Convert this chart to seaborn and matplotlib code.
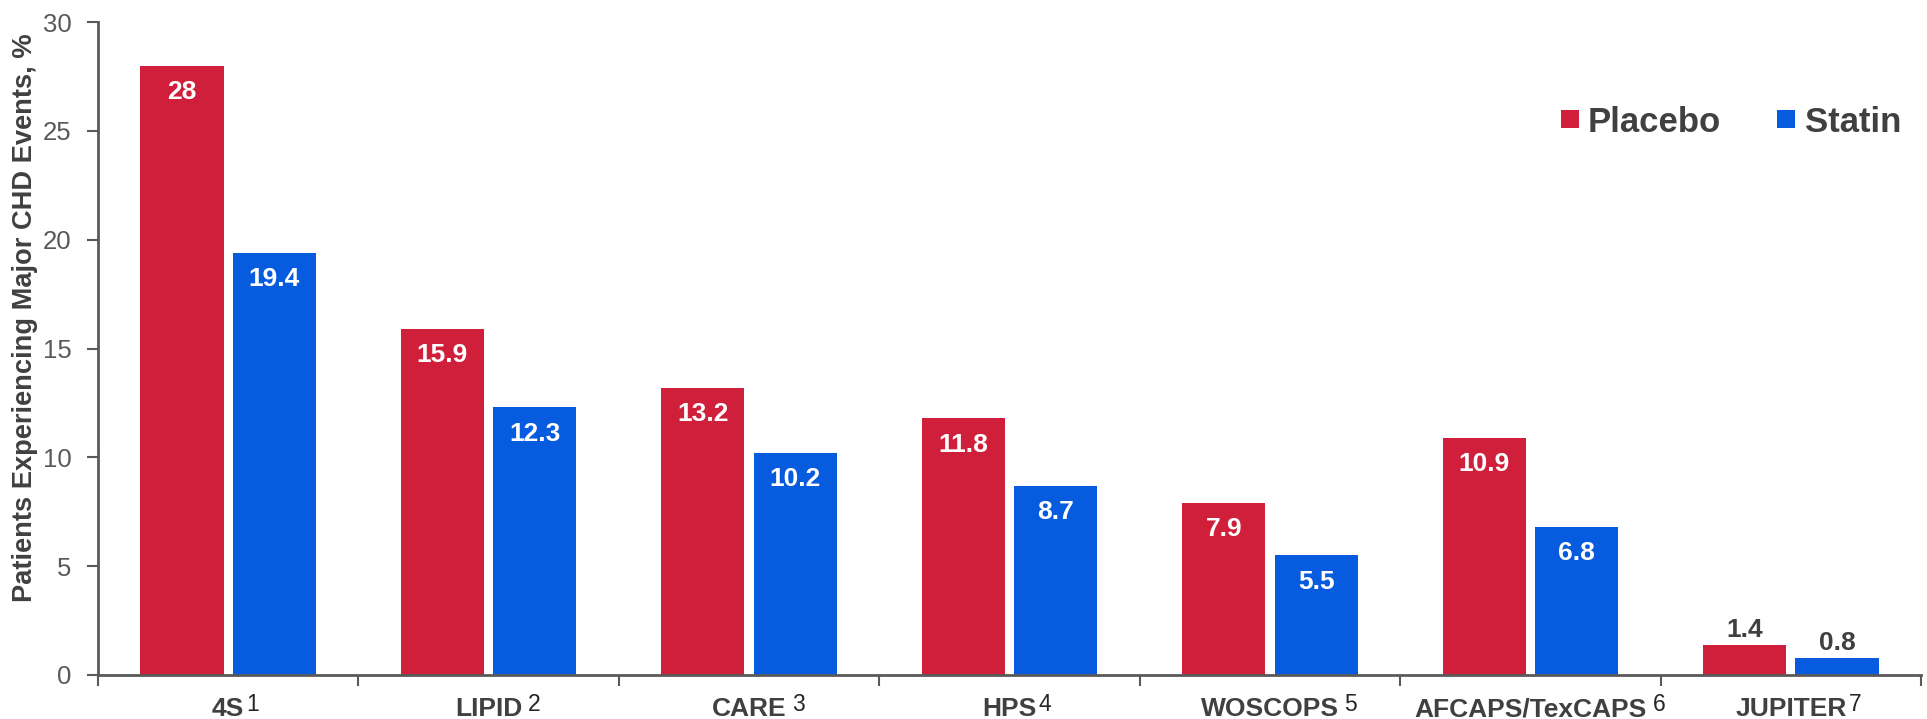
import numpy as np
import pandas as pd
import matplotlib
matplotlib.use("Agg")
import matplotlib.pyplot as plt
from matplotlib.lines import Line2D
import seaborn as sns

# ---- data ----
trials = ["4S", "LIPID", "CARE", "HPS", "WOSCOPS", "AFCAPS/TexCAPS", "JUPITER"]
refs = ["1", "2", "3", "4", "5", "6", "7"]
groups = ["Placebo", "Statin"]
placebo = [28, 15.9, 13.2, 11.8, 7.9, 10.9, 1.4]
statin = [19.4, 12.3, 10.2, 8.7, 5.5, 6.8, 0.8]
yticks = [0, 5, 10, 15, 20, 25, 30]
ylabel = "Patients Experiencing Major CHD Events, %"

colors = ["#CF1F3A", "#065BDF"]
dark = "#404040"
mid = "#595959"

df = pd.DataFrame({
    "Trial": trials * 2,
    "Group": [groups[0]] * len(trials) + [groups[1]] * len(trials),
    "Value": placebo + statin,
})

sns.set_theme(style="white")
plt.rcParams["font.family"] = ["Liberation Sans", "DejaVu Sans"]

W, H = 1927, 719
fig, ax = plt.subplots(figsize=(W / 100, H / 100), dpi=100)
fig.subplots_adjust(left=98 / W, right=1921 / W, bottom=1 - 675 / H, top=1 - 22 / H)

sns.barplot(data=df, x="Trial", y="Value", hue="Group", order=trials,
            hue_order=groups, palette=colors, width=0.71, gap=0.1,
            saturation=1, linewidth=0, legend=False, ax=ax)

ax.set_xlim(-0.5, len(trials) - 0.5)
ax.set_ylim(0, 30)
ax.set_yticks(yticks)
ax.set_yticklabels([str(t) for t in yticks])
ax.set_xlabel("")
ax.set_ylabel("")

# x ticks at category boundaries, labels at centres
ax.set_xticks(np.arange(-0.5, len(trials), 1.0))
ax.set_xticklabels([""] * (len(trials) + 1))
ax.set_xticks(np.arange(len(trials)), minor=True)
ax.set_xticklabels(trials, minor=True)
ax.tick_params(axis="x", which="major", length=8, width=1.5, color=mid,
               direction="out", bottom=True, labelbottom=False)
ax.tick_params(axis="x", which="minor", length=0, pad=16, labelsize=19,
               labelcolor=dark, bottom=True, labelbottom=True)
for t in ax.get_xticklabels(minor=True):
    t.set_fontweight("bold")
ax.tick_params(axis="y", length=8, width=1.5, color=mid, direction="out",
               left=True, pad=11, labelsize=18.5, labelcolor=mid)

for s in ["top", "right"]:
    ax.spines[s].set_visible(False)
for s in ["left", "bottom"]:
    ax.spines[s].set_color(mid)
    ax.spines[s].set_linewidth(2)

# value labels
series = [placebo, statin]
for ci, cont in enumerate(ax.containers):
    for bi, bar in enumerate(cont):
        v = series[ci][bi]
        x = bar.get_x() + bar.get_width() / 2
        txt = f"{v:g}"
        if v >= 3:
            ax.annotate(txt, (x, v), xytext=(0, -19), textcoords="offset points",
                        ha="center", va="center", color="white",
                        fontweight="bold", fontsize=19)
        else:
            ax.annotate(txt, (x, v), xytext=(0, 2), textcoords="offset points",
                        ha="center", va="bottom", color=dark,
                        fontweight="bold", fontsize=19)

# y label
fig.text(25 / W, 1 - 318 / H, ylabel, rotation=90, ha="center", va="center",
         fontsize=19.6, fontweight="bold", color=dark)

# legend
handles = [Line2D([], [], marker="s", linestyle="", markersize=13,
                  markerfacecolor=c, markeredgewidth=0) for c in colors]
fig.legend(handles, groups, loc="center left",
           bbox_to_anchor=(1560 / W, 1 - 122 / H), bbox_transform=fig.transFigure,
           ncol=2, frameon=False, borderpad=0, borderaxespad=0,
           handlelength=0.55, handletextpad=0.26, columnspacing=1.6,
           prop=dict(weight="bold", size=25), labelcolor=dark)

# superscript reference numbers next to the trial names
gaps = [2, 6, 6, 2, 5, 6, 2]
fig.canvas.draw()
renderer = fig.canvas.get_renderer()
for lab, ref, g in zip(ax.get_xticklabels(minor=True), refs, gaps):
    bb = lab.get_window_extent(renderer)
    fig.text((bb.x1 + g) / W, (bb.y1 + 4) / H, ref, ha="left", va="top",
             fontsize=16.5, color="#262626")

fig.savefig("out.png", dpi=100)
